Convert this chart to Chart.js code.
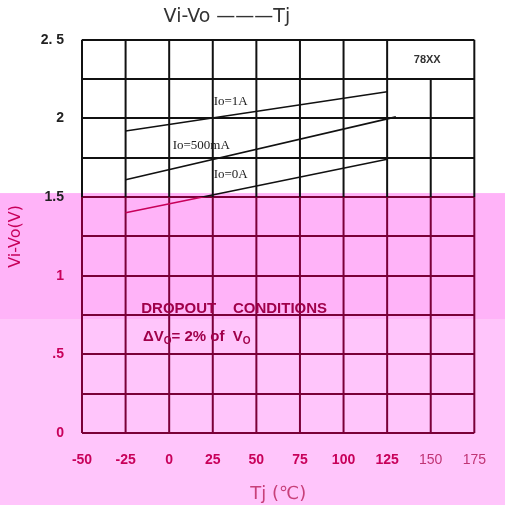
<!DOCTYPE html>
<html>
<head>
<meta charset="utf-8">
<script src="https://cdn.jsdelivr.net/npm/chart.js@4.4.0/dist/chart.umd.min.js"></script>
<style>
  html, body { margin: 0; padding: 0; background: #fff; }
  #wrap { width: 505px; height: 505px; }
</style>
</head>
<body>
<div id="wrap"><canvas id="myChart"></canvas></div>
<script>
// axis ticks
const tempTicks = [-50, -25, 0, 25, 50, 75, 100, 125, 150, 175];
const voltTicks = [0, 0.5, 1, 1.5, 2, 2.5];
const voltLabels = ["0", ".5", "1", "1.5", "2", "2. 5"];

// curves (Tj in degC, Vi-Vo in V)
const io1aT = [-25, 125];
const io1aV = [1.92, 2.17];
const io500T = [-25, 130];
const io500V = [1.61, 2.01];
const io0T = [-25, 125];
const io0V = [1.40, 1.74];

const PINK = "#ffb3f8";
const PINK_LIGHT = "#ffc5fb";
const MAROON = "#7a0038";
const MAGENTA = "#c8005a";
const SPLIT = 1.5; // where the scan turns pink
const SPLIT2 = 0.72; // lighter pink below this

const toPoints = (xs, ys) => xs.map((x, i) => ({ x: x, y: ys[i] }));

function splitColor(context) {
  const chart = context.chart;
  const area = chart.chartArea;
  if (!area) return "#111";
  const yb = chart.scales.y.getPixelForValue(SPLIT);
  const t = Math.min(1, Math.max(0, (yb - area.top) / (area.bottom - area.top)));
  const g = chart.ctx.createLinearGradient(0, area.top, 0, area.bottom);
  g.addColorStop(0, "#111");
  g.addColorStop(t, "#111");
  g.addColorStop(t, MAGENTA);
  g.addColorStop(1, MAGENTA);
  return g;
}

const backdrop = {
  id: "backdrop",
  beforeDraw(chart) {
    const { ctx, width, height } = chart;
    const yb = chart.scales.y.getPixelForValue(SPLIT) - 4;
    const yc = chart.scales.y.getPixelForValue(SPLIT2);
    ctx.save();
    ctx.fillStyle = "#fff";
    ctx.fillRect(0, 0, width, height);
    ctx.fillStyle = PINK;
    ctx.fillRect(0, yb, width, yc - yb);
    ctx.fillStyle = PINK_LIGHT;
    ctx.fillRect(0, yc, width, height - yc);
    ctx.restore();
  },
};

// vertical grid, black above the split, maroon below; 78XX box has no 150 line in the top row
const vgrid = {
  id: "vgrid",
  beforeDatasetsDraw(chart) {
    const { ctx, chartArea } = chart;
    const xs = chart.scales.x;
    const ys = chart.scales.y;
    const yb = ys.getPixelForValue(SPLIT);
    const yBox = ys.getPixelForValue(2.25);
    ctx.save();
    ctx.lineWidth = 2;
    tempTicks.forEach((v) => {
      const x = xs.getPixelForValue(v);
      ctx.strokeStyle = "#111";
      ctx.beginPath();
      ctx.moveTo(x, v === 150 ? yBox : chartArea.top);
      ctx.lineTo(x, yb);
      ctx.stroke();
      ctx.strokeStyle = MAROON;
      ctx.beginPath();
      ctx.moveTo(x, yb);
      ctx.lineTo(x, chartArea.bottom);
      ctx.stroke();
    });
    ctx.restore();
  },
};

const notes = {
  id: "notes",
  afterDatasetsDraw(chart) {
    const { ctx } = chart;
    const xs = chart.scales.x;
    const ys = chart.scales.y;
    const at = (t, v) => [xs.getPixelForValue(t), ys.getPixelForValue(v)];
    ctx.save();
    ctx.textBaseline = "middle";
    ctx.textAlign = "left";
    ctx.fillStyle = "#222";
    ctx.font = "13px 'Liberation Serif'";
    let p = at(25.5, 2.11);
    ctx.fillText("Io=1A", p[0], p[1]);
    p = at(2, 1.83);
    ctx.fillText("Io=500mA", p[0], p[1]);
    p = at(25.5, 1.64);
    ctx.fillText("Io=0A", p[0], p[1]);

    ctx.font = "bold 11px 'Liberation Sans'";
    ctx.textAlign = "center";
    ctx.fillStyle = "#333";
    p = at(148, 2.37);
    ctx.fillText("78XX", p[0], p[1]);

    ctx.textAlign = "left";
    ctx.fillStyle = "#a0004a";
    ctx.font = "bold 15px 'Liberation Sans'";
    p = at(-16, 0.79);
    ctx.fillText("DROPOUT    CONDITIONS", p[0], p[1]);
    p = at(-15, 0.61);
    let x = p[0];
    const y = p[1];
    const parts = [["\u0394V", 0], ["O", 1], ["= 2% of  V", 0], ["O", 1]];
    parts.forEach(([s, sub]) => {
      ctx.font = sub ? "bold 10px 'Liberation Sans'" : "bold 15px 'Liberation Sans'";
      ctx.fillText(s, x, sub ? y + 4 : y);
      x += ctx.measureText(s).width;
    });
    ctx.restore();
  },
};

new Chart(document.getElementById("myChart"), {
  type: "scatter",
  data: {
    datasets: [
      { label: "Io=1A", data: toPoints(io1aT, io1aV) },
      { label: "Io=500mA", data: toPoints(io500T, io500V) },
      { label: "Io=0A", data: toPoints(io0T, io0V) },
    ].map((d) => ({
      ...d,
      showLine: true,
      borderColor: splitColor,
      borderWidth: 1.6,
      pointRadius: 0,
      fill: false,
    })),
  },
  options: {
    responsive: true,
    maintainAspectRatio: false,
    animation: false,
    layout: { padding: { top: 0, right: 25, bottom: 0, left: 4 } },
    plugins: {
      legend: { display: false },
      tooltip: { enabled: false },
      title: {
        display: true,
        // trailing spaces pull the centred title a bit to the left, as in the scan
        text: "Vi-Vo \u2014\u2014\u2014Tj\u00a0\u00a0\u00a0\u00a0\u00a0",
        color: "#333",
        font: { family: "'DejaVu Sans'", size: 19, weight: "normal" },
        padding: { top: 6, bottom: 11 },
      },
    },
    scales: {
      x: {
        type: "linear",
        min: -50,
        max: 175,
        afterBuildTicks: (axis) => {
          axis.ticks = tempTicks.map((v) => ({ value: v }));
        },
        afterFit: (axis) => {
          axis.height = 72;
        },
        grid: { display: false, drawTicks: false },
        border: { display: false },
        ticks: {
          autoSkip: false,
          maxRotation: 0,
          padding: 19,
          color: (c) => (c.tick && c.tick.value >= 150 ? "#c03474" : MAGENTA),
          font: (c) => ({
            family: "'Liberation Sans'",
            size: 14,
            weight: c.tick && c.tick.value >= 150 ? "normal" : "bold",
          }),
        },
        title: {
          display: true,
          text: "Tj (\u2103)",
          color: "#c8407a",
          font: { family: "'DejaVu Sans'", size: 18 },
          padding: { top: 5, bottom: 0 },
        },
      },
      y: {
        min: 0,
        max: 2.5,
        afterFit: (axis) => {
          axis.width = 78;
        },
        grid: {
          drawTicks: false,
          lineWidth: 2,
          color: (c) => (c.tick && c.tick.value > SPLIT ? "#111" : MAROON),
        },
        border: { display: false },
        ticks: {
          stepSize: 0.25,
          autoSkip: false,
          padding: 18,
          color: (c) => (c.tick && c.tick.value >= SPLIT ? "#222" : MAGENTA),
          font: { family: "'Liberation Sans'", size: 14, weight: "bold" },
          callback: (v) => {
            const i = voltTicks.findIndex((t) => Math.abs(t - v) < 1e-6);
            return i < 0 ? "" : voltLabels[i];
          },
        },
        title: {
          display: true,
          text: "Vi-Vo(V)",
          color: MAGENTA,
          font: { family: "'DejaVu Sans'", size: 16 },
          padding: { top: 2, bottom: 0 },
        },
      },
    },
  },
  plugins: [backdrop, vgrid, notes],
});
</script>
</body>
</html>
